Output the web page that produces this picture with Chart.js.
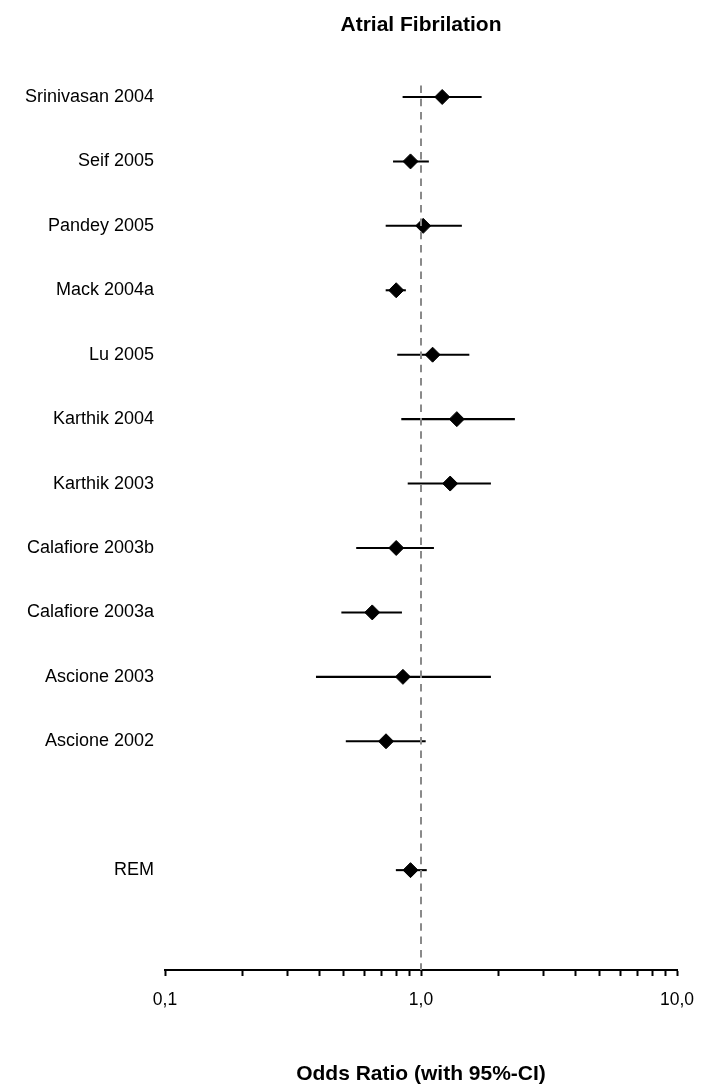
<!DOCTYPE html>
<html>
<head>
<meta charset="utf-8">
<title>Atrial Fibrilation</title>
<script src="https://cdn.jsdelivr.net/npm/chart.js@4.4.1/dist/chart.umd.min.js"></script>
<style>
  html, body { margin: 0; padding: 0; background: #fff; }
  canvas { display: block; }
</style>
</head>
<body>
<canvas id="forestChart" width="709" height="1089"></canvas>
<script>
// study rows, top to bottom (row 11 is left empty before the pooled estimate)
const studies = ["Srinivasan 2004", "Seif 2005", "Pandey 2005", "Mack 2004a", "Lu 2005",
    "Karthik 2004", "Karthik 2003", "Calafiore 2003b", "Calafiore 2003a",
    "Ascione 2003", "Ascione 2002", "REM"];
const rows = [0, 1, 2, 3, 4, 5, 6, 7, 8, 9, 10, 12];
const oddsRatio = [1.21, 0.91, 1.02, 0.80, 1.11, 1.38, 1.30, 0.80, 0.645, 0.85, 0.73, 0.91];
const ciLow = [0.85, 0.78, 0.73, 0.73, 0.81, 0.84, 0.89, 0.56, 0.49, 0.39, 0.51, 0.80];
const ciHigh = [1.72, 1.07, 1.44, 0.87, 1.54, 2.32, 1.87, 1.12, 0.84, 1.87, 1.04, 1.05];

const xTicks = [0.1, 0.2, 0.3, 0.4, 0.5, 0.6, 0.7, 0.8, 0.9, 1, 2, 3, 4, 5, 6, 7, 8, 9, 10];
const xTickLabels = { 0.1: "0,1", 1: "1,0", 10: "10,0" };

const FONT = "'Liberation Sans', Arial, Helvetica, sans-serif";

const ctx = document.getElementById("forestChart").getContext("2d");
new Chart(ctx, {
    type: "scatter",
    data: {
        datasets: [
            {
                // reference line at OR = 1
                type: "line",
                xAxisID: "x",
                yAxisID: "y",
                data: [{ x: 1, y: -0.18 }, { x: 1, y: 13.55 }],
                borderColor: "#8a8a8a",
                borderWidth: 2,
                borderDash: [7.5, 5.8],
                pointRadius: 0,
                fill: false
            },
            {
                // confidence intervals
                type: "bar",
                indexAxis: "y",
                xAxisID: "x",
                yAxisID: "y",
                data: rows.map((r, i) => ({ y: r, x: [ciLow[i], ciHigh[i]] })),
                backgroundColor: "#000",
                borderWidth: 0,
                barThickness: 1.4,
                grouped: false
            },
            {
                // point estimates
                xAxisID: "x",
                yAxisID: "y",
                data: rows.map((r, i) => ({ x: oddsRatio[i], y: r })),
                pointStyle: "rectRot",
                pointRadius: 7.5,
                backgroundColor: "#000",
                borderColor: "#000",
                borderWidth: 1
            }
        ]
    },
    options: {
        responsive: false,
        animation: false,
        layout: {
            padding: { top: 0, right: 32, bottom: 0, left: 0 }
        },
        plugins: {
            legend: { display: false },
            tooltip: { enabled: false },
            title: { display: false }
        },
        scales: {
            x: {
                type: "logarithmic",
                min: 0.1,
                max: 10,
                afterBuildTicks: scale => {
                    scale.ticks = xTicks.map(v => ({ value: v, major: v in xTickLabels }));
                },
                afterFit: scale => {
                    scale.height = 119;
                },
                ticks: {
                    autoSkip: false,
                    maxRotation: 0,
                    padding: 14,
                    color: "#000",
                    font: { family: FONT, size: 17.5 },
                    callback: value => xTickLabels[value] || ""
                },
                grid: {
                    drawOnChartArea: false,
                    drawTicks: true,
                    tickLength: 6,
                    tickWidth: 2,
                    tickColor: "#000"
                },
                border: { color: "#000", width: 2 },
                title: {
                    display: true,
                    text: "Odds Ratio (with 95%-CI)",
                    color: "#000",
                    font: { family: FONT, size: 21, weight: "bold" },
                    padding: { top: 0, bottom: 2 }
                }
            },
            y: {
                type: "linear",
                reverse: true,
                offset: false,
                min: -0.9,
                max: 13.55,
                afterBuildTicks: scale => {
                    scale.ticks = rows.map(v => ({ value: v }));
                },
                afterFit: scale => {
                    scale.width = 165;
                },
                ticks: {
                    autoSkip: false,
                    padding: 3,
                    color: "#000",
                    font: { family: FONT, size: 18 },
                    callback: value => studies[rows.indexOf(value)]
                },
                grid: { display: false, offset: false },
                border: { display: false }
            },
            // top axis only carries the chart title so it centres over the plot
            top: {
                type: "linear",
                position: "top",
                min: 0,
                max: 1,
                afterFit: scale => {
                    scale.height = 39;
                },
                ticks: { display: false },
                grid: { display: false },
                border: { display: false },
                title: {
                    display: true,
                    text: "Atrial Fibrilation",
                    color: "#000",
                    font: { family: FONT, size: 21, weight: "bold" },
                    padding: { top: 12.4, bottom: 0 }
                }
            }
        }
    }
});
</script>
</body>
</html>
